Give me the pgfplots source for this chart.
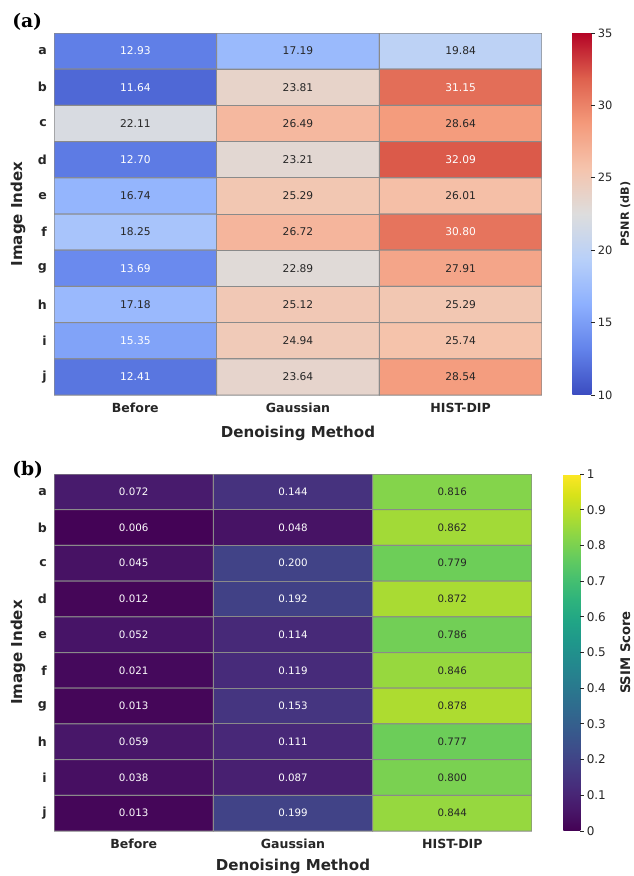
\documentclass[border=0pt]{standalone}
\usepackage{pgfplots}
\pgfplotsset{compat=1.18}
\usepackage{pgfplotstable}
\usepackage{fontspec}
\setmainfont{DejaVu Sans}
\newfontfamily\panelfont{DejaVu Serif}
\definecolor{txt}{HTML}{262626}
\definecolor{cellgrid}{HTML}{8A8A8A}

\pgfplotstableread{
x y v
0 0 12.93
1 0 17.19
2 0 19.84
0 1 11.64
1 1 23.81
2 1 31.15
0 2 22.11
1 2 26.49
2 2 28.64
0 3 12.70
1 3 23.21
2 3 32.09
0 4 16.74
1 4 25.29
2 4 26.01
0 5 18.25
1 5 26.72
2 5 30.80
0 6 13.69
1 6 22.89
2 6 27.91
0 7 17.18
1 7 25.12
2 7 25.29
0 8 15.35
1 8 24.94
2 8 25.74
0 9 12.41
1 9 23.64
2 9 28.54
}\psnr

\pgfplotstableread{
x y v
0 0 0.072
1 0 0.144
2 0 0.816
0 1 0.006
1 1 0.048
2 1 0.862
0 2 0.045
1 2 0.200
2 2 0.779
0 3 0.012
1 3 0.192
2 3 0.872
0 4 0.052
1 4 0.114
2 4 0.786
0 5 0.021
1 5 0.119
2 5 0.846
0 6 0.013
1 6 0.153
2 6 0.878
0 7 0.059
1 7 0.111
2 7 0.777
0 8 0.038
1 8 0.087
2 8 0.800
0 9 0.013
1 9 0.199
2 9 0.844
}\ssim

\newcommand\psnrtext[1]{\ifdim#1pt<16pt\color{white}\else\ifdim#1pt>30pt\color{white}\else\color{txt}\fi\fi#1}
\newcommand\ssimtext[1]{\ifdim#1pt<0.5pt\color{white}\else\color{txt}\fi#1}

\pgfplotsset{
  heat/.style={
    scale only axis,
    anchor=north west,
    xmin=-0.5, xmax=2.5, ymin=-0.5, ymax=9.5, y dir=reverse,
    enlargelimits=false,
    xtick={0,1,2}, xticklabels={Before,Gaussian,HIST-DIP},
    ytick={0,1,2,3,4,5,6,7,8,9}, yticklabels={a,b,c,d,e,f,g,h,i,j},
    major tick length=0pt,
    axis line style={draw=none},
    tick label style={font=\bfseries\fontsize{9.4}{11}\selectfont, text=txt},
    xticklabel style={yshift=-2.5pt},
    yticklabel style={xshift=-1.9pt},
    xlabel={Denoising Method}, ylabel={Image Index},
    label style={font=\bfseries\fontsize{11.3}{13}\selectfont, text=txt},
    ylabel style={at={(axis description cs:0,0.5)}, anchor=center, yshift=27pt},
  },
  cbar/.style={
    at={(parent axis.north east)}, anchor=north west,
    scale only axis,
    axis line style={draw=none},
    ytick pos=right, yticklabel pos=right,
    tick align=outside,
    major tick length=2.6pt,
    tick style={draw=txt, line width=0.6pt},
    /pgf/number format/assume math mode=true,
    yticklabel style={text=txt, inner sep=2pt},
    ylabel style={at={(axis description cs:0,0.5)}, anchor=center, font=\bfseries, text=txt},
  },
}

\begin{document}
\begin{tikzpicture}
\useasboundingbox (0,0) rectangle (474.75pt,657pt);

\begin{axis}[heat,
  at={(40.5pt,632.25pt)}, width=366pt, height=271.5pt,
  xlabel style={at={(axis description cs:0.5,0)}, anchor=center, yshift=-28.5pt},
  colormap={coolwarm}{rgb255=(59,76,192) rgb255=(98,130,234) rgb255=(141,176,254) rgb255=(184,208,249) rgb255=(221,221,221) rgb255=(245,196,173) rgb255=(244,154,123) rgb255=(222,96,77) rgb255=(180,4,38)},
  point meta min=10, point meta max=35,
  colorbar,
  colorbar style={cbar, xshift=14.25pt, width=14.25pt, height=271.5pt,
    ytick={10,15,20,25,30,35},
    yticklabel style={font=\fontsize{8.6}{10}\selectfont},
    ylabel={PSNR (dB)},
    ylabel style={yshift=-39.75pt, font=\bfseries\fontsize{8.4}{10}\selectfont}},
]
\addplot[matrix plot*, mesh/cols=3, point meta=explicit, shader=faceted, faceted color=cellgrid, draw=cellgrid, line width=0.75pt] table[x=x, y=y, meta=v]{\psnr};
\addplot[only marks, mark=none, point meta=explicit symbolic,
  nodes near coords={\psnrtext{\pgfplotspointmeta}}, nodes near coords align=center,
  every node near coord/.append style={font=\fontsize{8}{10}\selectfont, anchor=center, inner sep=0pt}]
  table[x=x, y=y, meta=v]{\psnr};
\end{axis}

\begin{axis}[heat,
  at={(40.5pt,301.5pt)}, width=358.5pt, height=267.75pt,
  xlabel style={at={(axis description cs:0.5,0)}, anchor=center, yshift=-26.25pt},
  colormap name=viridis,
  point meta min=0, point meta max=1,
  colorbar,
  colorbar style={cbar, xshift=15pt, width=12.75pt, height=267.75pt,
    ytick={0,0.1,0.2,0.3,0.4,0.5,0.6,0.7,0.8,0.9,1},
    yticklabel style={font=\fontsize{9}{11}\selectfont},
    ylabel={SSIM Score},
    ylabel style={yshift=-46.5pt, font=\bfseries\fontsize{9.9}{12}\selectfont}},
]
\addplot[matrix plot*, mesh/cols=3, point meta=explicit, shader=faceted, faceted color=cellgrid, draw=cellgrid, line width=0.75pt] table[x=x, y=y, meta=v]{\ssim};
\addplot[only marks, mark=none, point meta=explicit symbolic,
  nodes near coords={\ssimtext{\pgfplotspointmeta}}, nodes near coords align=center,
  every node near coord/.append style={font=\fontsize{7.7}{9}\selectfont, anchor=center, inner sep=0pt}]
  table[x=x, y=y, meta=v]{\ssim};
\end{axis}

\node[anchor=west, inner sep=0pt, font=\panelfont\bfseries\fontsize{14}{16}\selectfont, text=black] at (9pt,640.5pt) {(a)};
\node[anchor=west, inner sep=0pt, font=\panelfont\bfseries\fontsize{14}{16}\selectfont, text=black] at (9pt,304.9pt) {(b)};
\end{tikzpicture}
\end{document}
